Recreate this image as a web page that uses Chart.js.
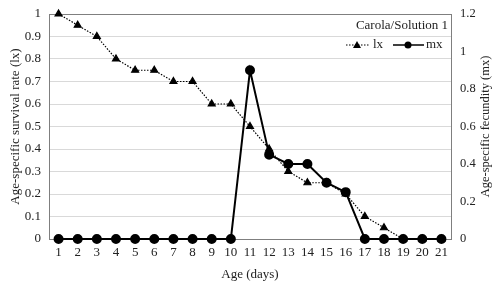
<!DOCTYPE html>
<html><head><meta charset="utf-8">
<script src="https://cdn.jsdelivr.net/npm/chart.js@4/dist/chart.umd.min.js"></script>
<style>html,body{margin:0;padding:0;background:#fff}#wrap{width:493px;height:282px}</style>
</head><body><div id="wrap"><canvas id="c"></canvas></div>
<script>
const ages = ['1','2','3','4','5','6','7','8','9','10','11','12','13','14','15','16','17','18','19','20','21'];
const lx = [1,0.95,0.9,0.8,0.75,0.75,0.7,0.7,0.6,0.6,0.5,0.4,0.3,0.25,0.25,0.2,0.1,0.05,0,0,0];
const mx = [0,0,0,0,0,0,0,0,0,0,0.9,0.45,0.4,0.4,0.3,0.25,0,0,0,0,0];
const legendTitle = 'Carola/Solution 1';
const rightTitle = 'Age-specific fecundity (mx)';
const FONT = "'Liberation Serif', 'Times New Roman', serif";

const boxPlugin = {
  id: 'box',
  beforeDatasetsDraw(chart) {
    const {ctx, chartArea: a} = chart;
    ctx.save();
    ctx.strokeStyle = '#7f7f7f';
    ctx.lineWidth = 1;
    ctx.strokeRect(Math.round(a.left) + 0.5, Math.round(a.top) + 0.5, Math.round(a.right - a.left), Math.round(a.bottom - a.top));
    ctx.restore();
  },
  afterDatasetsDraw(chart) {
    const {ctx, chartArea: a} = chart;
    ctx.save();
    // legend
    ctx.fillStyle = '#222';
    ctx.font = '13px ' + FONT;
    ctx.textBaseline = 'middle';
    ctx.textAlign = 'right';
    ctx.fillText(legendTitle, a.right - 3, a.top + 12);
    const y = a.top + 31;
    ctx.textAlign = 'left';
    // mx item
    let x = a.right - 58;
    ctx.strokeStyle = '#000'; ctx.lineWidth = 1.5; ctx.setLineDash([]);
    ctx.beginPath(); ctx.moveTo(x, y); ctx.lineTo(x + 31, y); ctx.stroke();
    ctx.fillStyle = '#000';
    ctx.beginPath(); ctx.arc(x + 15, y, 3.5, 0, Math.PI * 2); ctx.fill();
    ctx.fillStyle = '#222';
    ctx.fillText('mx', x + 33, y);
    // lx item
    x = a.right - 105;
    ctx.strokeStyle = '#000'; ctx.lineWidth = 1; ctx.setLineDash([1.5, 1.5]);
    ctx.beginPath(); ctx.moveTo(x, y); ctx.lineTo(x + 23, y); ctx.stroke();
    ctx.setLineDash([]);
    ctx.fillStyle = '#000';
    ctx.beginPath(); ctx.moveTo(x + 11, y - 4); ctx.lineTo(x + 15, y + 3); ctx.lineTo(x + 7, y + 3); ctx.closePath(); ctx.fill();
    ctx.fillStyle = '#222';
    ctx.fillText('lx', x + 27, y);
    // right axis title, reading bottom to top
    ctx.font = '12.5px ' + FONT;
    ctx.translate(486, (a.top + a.bottom) / 2);
    ctx.rotate(-Math.PI / 2);
    ctx.textAlign = 'center';
    ctx.fillText(rightTitle, 0, 0);
    ctx.restore();
  }
};

new Chart(document.getElementById('c'), {
  type: 'line',
  data: {
    labels: ages,
    datasets: [
      {label: 'lx', data: lx, yAxisID: 'y', borderColor: '#000', backgroundColor: '#000', clip: false,
       borderWidth: 1.2, borderDash: [1.5, 1.5], pointStyle: 'triangle', pointRadius: 4, tension: 0},
      {label: 'mx', data: mx, yAxisID: 'y2', borderColor: '#000', backgroundColor: '#000', clip: false,
       borderWidth: 2, pointStyle: 'circle', pointRadius: 4, tension: 0}
    ]
  },
  options: {
    responsive: true, maintainAspectRatio: false, animation: false,
    layout: {padding: {top: 14, left: 0, right: 0, bottom: 0}},
    plugins: {legend: {display: false}, tooltip: {enabled: false}},
    scales: {
      x: {
        offset: true,
        grid: {display: false, drawTicks: false},
        border: {color: '#7f7f7f'},
        ticks: {color: '#222', font: {family: FONT, size: 13}, padding: 6, maxRotation: 0, autoSkip: false},
        title: {display: true, text: 'Age (days)', color: '#222', font: {family: FONT, size: 13}, padding: {top: 2, bottom: 0}},
        afterFit(s) { s.height = 43; s.paddingLeft = 0; s.paddingRight = 0; }
      },
      y: {
        position: 'left', min: 0, max: 1,
        grid: {color: '#d9d9d9', drawTicks: false},
        border: {color: '#7f7f7f'},
        ticks: {stepSize: 0.1, color: '#222', font: {family: FONT, size: 13}, padding: 8,
                callback: v => String(Math.round(v * 10) / 10)},
        title: {display: true, text: 'Age-specific survival rate (lx)', color: '#222', font: {family: FONT, size: 13}, padding: {top: 8, bottom: 2}},
        afterFit(s) { s.width = 49; s.paddingTop = 0; s.paddingBottom = 0; }
      },
      y2: {
        position: 'right', min: 0, max: 1.2,
        grid: {display: false, drawTicks: false},
        border: {color: '#7f7f7f'},
        ticks: {stepSize: 0.2, color: '#222', font: {family: FONT, size: 12.5}, padding: 9,
                callback: v => String(Math.round(v * 10) / 10)},
        afterFit(s) { s.width = 42; s.paddingTop = 0; s.paddingBottom = 0; }
      }
    }
  },
  plugins: [boxPlugin]
});
</script></body></html>
